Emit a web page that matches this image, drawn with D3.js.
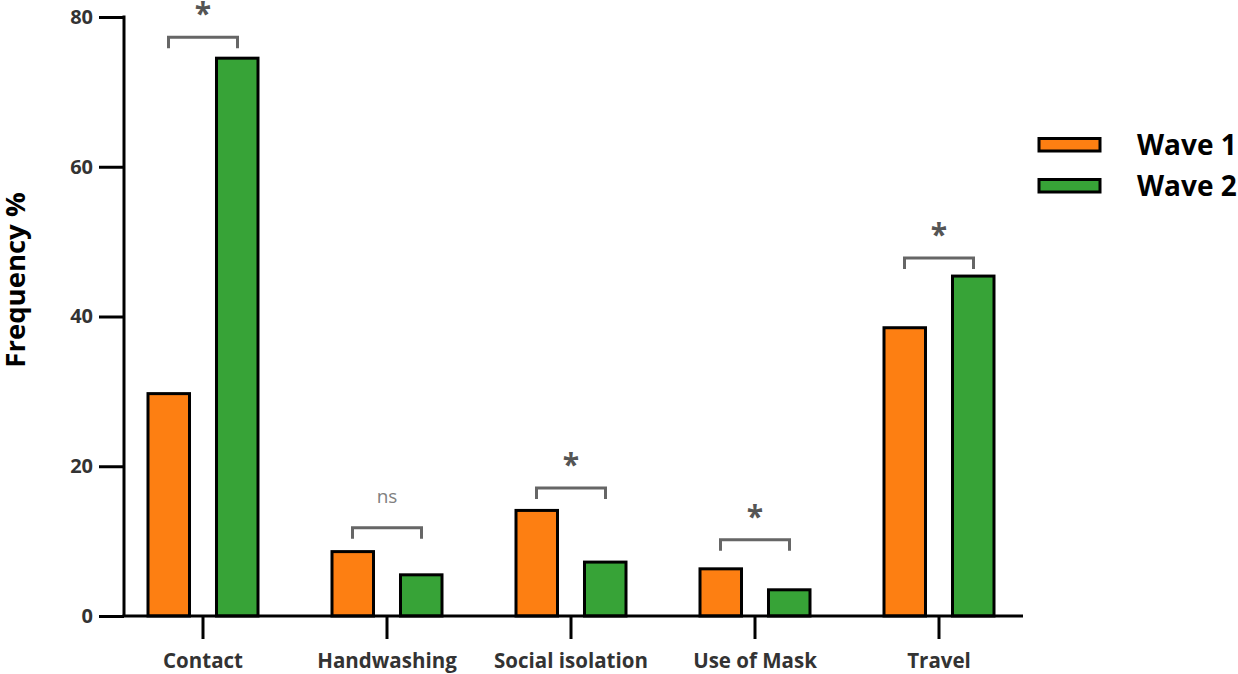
<!DOCTYPE html>
<html>
<head>
<meta charset="utf-8">
<script src="https://cdn.jsdelivr.net/npm/d3@7"></script>
<style>
  body { margin: 0; background: #fff; }
  text { font-family: "Open Sans", "Noto Sans", sans-serif; }
</style>
</head>
<body>
<svg width="1238" height="674"></svg>
<script>
/* data */
var categories = ["Contact", "Handwashing", "Social isolation", "Use of Mask", "Travel"]
var waves = ["Wave 1", "Wave 2"]
var wave1 = [29.7, 8.6, 14.1, 6.3, 38.5]
var wave2 = [74.5, 5.5, 7.2, 3.5, 45.4]
var sigLabel = ["*", "ns", "*", "*", "*"]
var sigLevel = [77.3, 11.8, 17.1, 10.2, 47.8]
var yTicks = [0, 20, 40, 60, 80]

var colors = { "Wave 1": "#fd7f12", "Wave 2": "#37a337" }

var svg = d3.select("svg")

/* scales */
var x = d3.scaleBand().domain(categories).range([111, 1031])
var xSub = d3.scaleBand().domain(waves).range([-55, 55]).paddingInner(0.394)
var y = d3.scaleLinear().domain([0, 80]).range([616, 17])

var rows = categories.map(function(c, i) {
    return { cat: c, values: [
        { wave: "Wave 1", v: wave1[i] },
        { wave: "Wave 2", v: wave2[i] }
    ], sig: sigLabel[i], level: sigLevel[i] }
})

/* bars */
var groups = svg.append("g").attr("class", "bars")
    .selectAll("g")
    .data(rows)
    .enter()
    .append("g")
    .attr("transform", function(d) { return "translate(" + (x(d.cat) + x.bandwidth() / 2) + ",0)" })

groups.selectAll("rect")
    .data(function(d) { return d.values })
    .enter()
    .append("rect")
    .attr("x", function(d) { return xSub(d.wave) })
    .attr("y", function(d) { return y(d.v) })
    .attr("width", xSub.bandwidth())
    .attr("height", function(d) { return y(0) - y(d.v) })
    .attr("fill", function(d) { return colors[d.wave] })
    .attr("stroke", "#000")
    .attr("stroke-width", 3)

/* significance brackets */
var half = 34.5
groups.append("path")
    .attr("d", function(d) {
        var yy = y(d.level)
        return "M" + (-half) + "," + (yy + 11) + "V" + yy + "H" + half + "V" + (yy + 11)
    })
    .attr("fill", "none")
    .attr("stroke", "#666")
    .attr("stroke-width", 3)

groups.append("text")
    .text(function(d) { return d.sig })
    .attr("x", 0)
    .attr("y", function(d) { return d.sig == "ns" ? y(d.level) - 25 : y(d.level) - 13 })
    .attr("text-anchor", "middle")
    .attr("fill", function(d) { return d.sig == "ns" ? "#808080" : "#555" })
    .attr("font-family", function(d) { return d.sig == "ns" ? "'Open Sans', sans-serif" : "'DejaVu Sans', sans-serif" })
    .attr("font-size", function(d) { return d.sig == "ns" ? 19 : 30 })
    .attr("font-weight", function(d) { return d.sig == "ns" ? 400 : 700 })

/* y axis */
var yAxis = svg.append("g")
    .attr("transform", "translate(124,0)")
    .call(d3.axisLeft(y).tickValues(yTicks).tickSize(25).tickPadding(6).tickSizeOuter(0))
yAxis.select(".domain").attr("stroke", "#000").attr("stroke-width", 3)
    .attr("d", "M0," + (y(80) - 1.5) + "V" + y(0))
yAxis.selectAll(".tick line").attr("stroke", "#000").attr("stroke-width", 3)
yAxis.selectAll(".tick text")
    .attr("fill", "#333")
    .attr("font-size", 20)
    .attr("font-weight", 700)
    .attr("font-family", "'Open Sans', sans-serif")

/* x axis */
var xAxis = svg.append("g")
    .attr("transform", "translate(0," + y(0) + ")")
    .call(d3.axisBottom(x).tickSize(23).tickPadding(14).tickSizeOuter(0))
xAxis.select(".domain").attr("stroke", "#000").attr("stroke-width", 3)
    .attr("d", "M122.5,0H1023")
xAxis.selectAll(".tick line").attr("stroke", "#000").attr("stroke-width", 3)
xAxis.selectAll(".tick text")
    .attr("fill", "#333")
    .attr("font-size", 20.5)
    .attr("font-weight", 700)
    .attr("font-family", "'Open Sans', sans-serif")

/* y title */
svg.append("text")
    .text("Frequency %")
    .attr("transform", "translate(25,280) rotate(-90)")
    .attr("text-anchor", "middle")
    .attr("font-size", 27.5)
    .attr("font-weight", 700)
    .attr("fill", "#000")

/* legend */
var legend = svg.append("g").attr("class", "legend")
    .selectAll("g")
    .data(waves)
    .enter()
    .append("g")
    .attr("transform", function(d, i) { return "translate(1039," + (138.5 + i * 41) + ")" })

legend.append("rect")
    .attr("width", 61)
    .attr("height", 12.5)
    .attr("fill", function(d) { return colors[d] })
    .attr("stroke", "#000")
    .attr("stroke-width", 3)

legend.append("text")
    .text(function(d) { return d })
    .attr("x", 98)
    .attr("y", 16.5)
    .attr("font-size", 28)
    .attr("font-weight", 700)
    .attr("fill", "#000")
</script>
</body>
</html>
